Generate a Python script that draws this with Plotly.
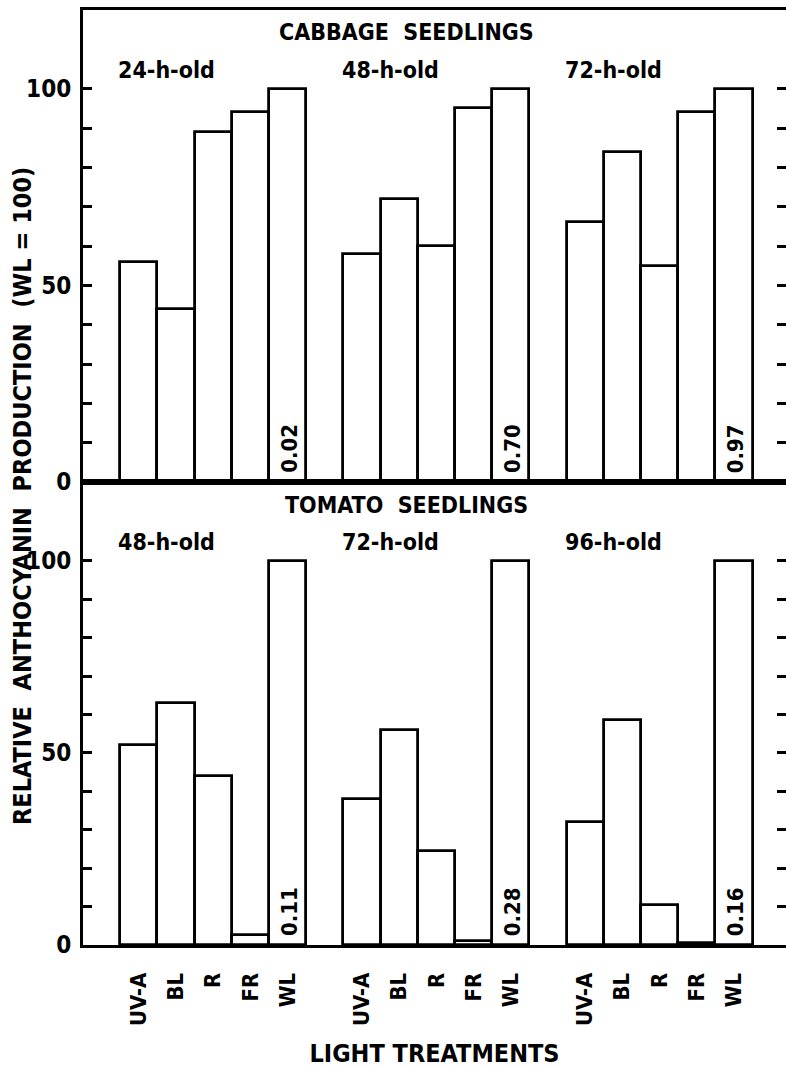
import plotly.graph_objects as go

# ---------------- data ----------------
treatments = ["UV-A", "BL", "R", "FR", "WL"]

cabbage_title = "CABBAGE  SEEDLINGS"
cabbage_ages = ["24-h-old", "48-h-old", "72-h-old"]
cabbage_values = [
    [56, 44, 89, 94, 100],
    [58, 72, 60, 95, 100],
    [66, 84, 55, 94, 100],
]
cabbage_wl_labels = ["0.02", "0.70", "0.97"]

tomato_title = "TOMATO  SEEDLINGS"
tomato_ages = ["48-h-old", "72-h-old", "96-h-old"]
tomato_values = [
    [52, 63, 44, 2.5, 100],
    [38, 56, 24.5, 1.0, 100],
    [32, 58.5, 10.5, 0.5, 100],
]
tomato_wl_labels = ["0.11", "0.28", "0.16"]

y_tick_vals = list(range(0, 101, 10))
y_tick_text = ["0", "", "", "", "", "50", "", "", "", "", "100"]

# ---------------- layout helpers ----------------
FONT = "DejaVu Sans Condensed, Liberation Sans Narrow, DejaVu Sans, sans-serif"
W, H = 786, 1068
ML, MR, MT, MB = 83, 0, 10, 123
plot_h = H - MT - MB
split = (945 - 482) / plot_h
slot = len(treatments) + 1

def f(size):
    return dict(family=FONT, size=size, color="black", weight="bold")

def xpos(g, i):
    return g * slot + i

fig = go.Figure()

panels = [
    ("x", "y", cabbage_values, cabbage_ages, cabbage_wl_labels, cabbage_title),
    ("x2", "y2", tomato_values, tomato_ages, tomato_wl_labels, tomato_title),
]

for xa, ya, values, ages, wl_labels, title in panels:
    xs, ys = [], []
    for g, grp in enumerate(values):
        for i, v in enumerate(grp):
            xs.append(xpos(g, i))
            ys.append(v)
    fig.add_trace(go.Bar(
        x=xs, y=ys, width=1.0, xaxis=xa, yaxis=ya,
        marker=dict(color="white", line=dict(color="black", width=2.8)),
        showlegend=False, hoverinfo="skip",
    ))
    fig.add_annotation(
        x=(xpos(0, 0) + xpos(len(values) - 1, len(treatments) - 1)) / 2 - 0.8,
        y=114.5, xref=xa, yref=ya, text=title, showarrow=False,
        font=f(23), xanchor="center", yanchor="middle",
    )
    for g, age in enumerate(ages):
        fig.add_annotation(
            x=xpos(g, 0) - 0.6, y=104.8, xref=xa, yref=ya, text=age,
            showarrow=False, font=f(23), xanchor="left", yanchor="middle",
        )
        fig.add_annotation(
            x=xpos(g, len(treatments) - 1) + 0.05, y=1.8, xref=xa, yref=ya,
            text=wl_labels[g], textangle=-90, showarrow=False,
            font=f(22), xanchor="center", yanchor="bottom",
        )

xrange = [-1.5, 17.4]
axis_common = dict(showline=True, linecolor="black", linewidth=3,
                   showgrid=False, zeroline=False)

tick_x = [xpos(g, i) for g in range(len(tomato_values)) for i in range(len(treatments))]
tick_t = [treatments[i] for g in range(len(tomato_values)) for i in range(len(treatments))]

left_y = dict(tickvals=y_tick_vals, ticktext=y_tick_text,
              ticks="inside", ticklen=9, tickwidth=2.5, tickcolor="black",
              mirror=False, tickfont=f(24), ticklabelstandoff=4, **axis_common)
right_y = dict(tickvals=y_tick_vals, ticks="inside", ticklen=9, tickwidth=2.5,
               tickcolor="black", showticklabels=False, showline=False,
               showgrid=False, zeroline=False, side="right")

fig.update_layout(
    width=W, height=H,
    margin=dict(l=ML, r=MR, t=MT, b=MB, pad=0),
    paper_bgcolor="white", plot_bgcolor="white",
    font=f(24),
    bargap=0,
    xaxis=dict(domain=[0, 1], anchor="y", range=xrange, showticklabels=False,
               ticks="", mirror=True, **axis_common),
    yaxis=dict(domain=[split, 1], anchor="x", range=[0, 120], **left_y),
    yaxis3=dict(overlaying="y", anchor="x", range=[0, 120], **right_y),
    xaxis2=dict(domain=[0, 1], anchor="y2", range=xrange,
                tickvals=tick_x, ticktext=tick_t, tickangle=-90,
                ticks="", tickfont=f(22),
                ticklabelstandoff=16, mirror=True,
                title=dict(text="LIGHT TREATMENTS", standoff=22, font=f(25)),
                **axis_common),
    yaxis2=dict(domain=[0, split], anchor="x2", range=[0, 120.5], **left_y),
    yaxis4=dict(overlaying="y2", anchor="x2", range=[0, 120.5], **right_y),
)

# invisible traces so the right-hand tick axes are drawn
fig.add_trace(go.Scatter(x=[xrange[0]], y=[0], xaxis="x", yaxis="y3", mode="markers",
                         marker=dict(opacity=0), showlegend=False, hoverinfo="skip"))
fig.add_trace(go.Scatter(x=[xrange[0]], y=[0], xaxis="x2", yaxis="y4", mode="markers",
                         marker=dict(opacity=0), showlegend=False, hoverinfo="skip"))

fig.add_annotation(
    x=(22 - ML) / (W - ML - MR), y=(H - MB - 496) / plot_h,
    xref="paper", yref="paper",
    text="RELATIVE  ANTHOCYANIN  PRODUCTION  (WL = 100)",
    textangle=-90, showarrow=False, font=f(25),
    xanchor="center", yanchor="middle",
)

fig.write_html("out.html")
